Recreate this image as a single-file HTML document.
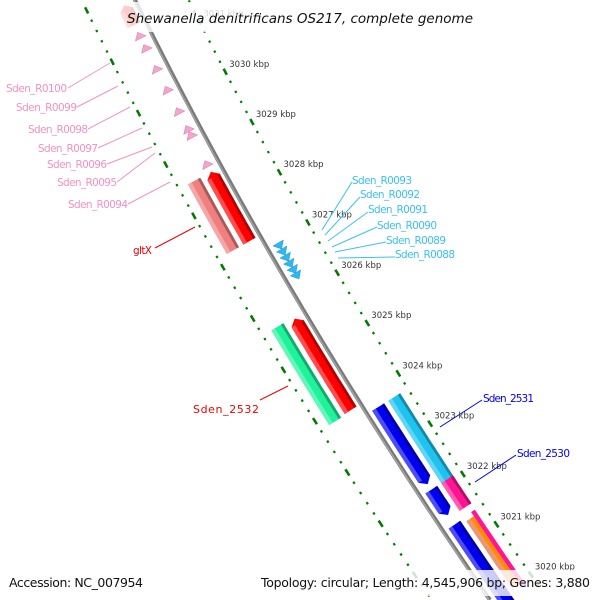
<!DOCTYPE html>
<html><head><meta charset="utf-8"><title>Shewanella denitrificans OS217 genome map</title>
<style>
html,body{margin:0;padding:0;background:#fff;width:600px;height:600px;overflow:hidden;}
svg{display:block;overflow:hidden;font-family:"DejaVu Sans","Liberation Sans",sans-serif;}
</style></head>
<body>
<svg id="map" width="600" height="600" viewBox="0 0 600 600" xmlns="http://www.w3.org/2000/svg">
<g id="rings"></g>
<g id="backbone"></g>
<g id="genes"></g>
<g id="ticklabels"></g>
<g id="labels">
  <g fill="#f590c4" stroke="none" font-size="10.5">
    <text x="6" y="92" textLength="61">Sden_R0100</text>
    <text x="16" y="111" textLength="61">Sden_R0099</text>
    <text x="28" y="133" textLength="60">Sden_R0098</text>
    <text x="38" y="152" textLength="60">Sden_R0097</text>
    <text x="47" y="168" textLength="60">Sden_R0096</text>
    <text x="57" y="186" textLength="60">Sden_R0095</text>
    <text x="68" y="208" textLength="60">Sden_R0094</text>
  </g>
  <g stroke="#f590c4" stroke-width="1">
    <line x1="68" y1="88" x2="110" y2="63"/>
    <line x1="77" y1="107" x2="118" y2="86"/>
    <line x1="88" y1="129" x2="130" y2="107"/>
    <line x1="98" y1="148" x2="142" y2="128"/>
    <line x1="107" y1="164" x2="152" y2="147"/>
    <line x1="117" y1="182" x2="155" y2="153"/>
    <line x1="128" y1="204" x2="170" y2="182"/>
  </g>
  <g fill="#3cc0f2" font-size="10.5">
    <text x="352" y="184" textLength="60">Sden_R0093</text>
    <text x="360" y="198" textLength="60">Sden_R0092</text>
    <text x="368" y="213" textLength="60">Sden_R0091</text>
    <text x="377" y="229" textLength="60">Sden_R0090</text>
    <text x="386" y="244" textLength="60">Sden_R0089</text>
    <text x="395" y="258" textLength="60">Sden_R0088</text>
  </g>
  <g stroke="#3cc0f2" stroke-width="1">
    <line x1="352" y1="182" x2="322" y2="230"/>
    <line x1="360" y1="197" x2="325" y2="235"/>
    <line x1="368" y1="212" x2="328" y2="241"/>
    <line x1="377" y1="227" x2="332" y2="247"/>
    <line x1="386" y1="242" x2="335" y2="252"/>
    <line x1="395" y1="257" x2="338" y2="258"/>
  </g>
  <text x="133" y="254" fill="#ee0000" font-size="10.5" textLength="19">gltX</text>
  <line x1="155" y1="248" x2="195" y2="227" stroke="#ee0000"/>
  <text x="193" y="413" fill="#ee0000" font-size="11" textLength="66">Sden_2532</text>
  <line x1="260" y1="400" x2="288" y2="386" stroke="#ee0000"/>
  <text x="483" y="402" fill="#0000ee" font-size="10.5" textLength="51">Sden_2531</text>
  <line x1="482" y1="400" x2="440" y2="427" stroke="#0000ee"/>
  <text x="517" y="457" fill="#0000ee" font-size="10.5" textLength="53">Sden_2530</text>
  <line x1="516" y1="455" x2="475" y2="482" stroke="#0000ee"/>
</g>
<g>
  <rect x="120" y="2" width="360" height="30" fill="#fff" fill-opacity="0.8"/>
  <text x="300" y="23" text-anchor="middle" font-size="13.5" font-style="italic" fill="#111" textLength="346">Shewanella denitrificans OS217, complete genome</text>
</g>
<g>
  <rect x="4" y="570" width="144" height="26" fill="#fff" fill-opacity="0.8"/>
  <text x="9" y="587" font-size="12.5" fill="#111" textLength="134">Accession: NC_007954</text>
  <rect x="255" y="570" width="341" height="26" fill="#fff" fill-opacity="0.8"/>
  <text x="261" y="587" font-size="12.5" fill="#111" textLength="329">Topology: circular; Length: 4,545,906 bp; Genes: 3,880</text>
</g>
</svg>
<script>
// ---- data ----
var tickLabelKbp = [3031,3030,3029,3028,3027,3026,3025,3024,3023,3022,3021,3020];
var leftRingPhase = 1.06;
var geneNames  = ['top-red','gltx-partner','gltx','sden-2532-partner','sden-2532','sden-2531','sden-2531b','sden-2530-blue','cyan-gene','magenta-gene','thin-salmon','thin-orange','thin-pink'];
var geneTop    = [3031.85, 3028.58, 3028.58, 3025.70, 3025.73, 3023.70, 3022.07, 3021.38, 3023.70, 3022.07, 3021.32, 3021.32, 3021.40];
var geneBottom = [3031.46, 3027.22, 3027.22, 3023.90, 3023.88, 3022.18, 3021.57, 3019.30, 3022.07, 3021.52, 3020.00, 3020.00, 3019.90];
var geneTrack  = [-12, -12, -31, -12, -31, 13, 13, 13, 32, 32, 27, 31.5, 36];
var geneWidth  = [14, 14, 14, 14, 14, 14, 14, 14, 14, 14, 4.5, 4.5, 4.5];
var geneHead   = ['up','up','none','up','none','down','down','down','none','none','none','none','none'];
var geneColor  = ['#ff0000','#ff0000','#f08080','#ff0000','#1ef29a','#0000ee','#0000ee','#0000ee','#1ec3f0','#ff1493','#e9967a','#ff8c00','#ff1493'];
var trnaLeftKbp  = [3031.26,3031.02,3030.61,3030.20,3029.78,3029.43,3029.31,3028.74];
var trnaRightKbp = [3026.89,3026.77,3026.65,3026.53,3026.41,3026.30];

// ---- geometry ----
function xb(y){return 135+0.4917*y+0.0001667*y*y;}
function Y(k){return 94+(3030-k)*50.8;}
function pt(k,r){var y=Y(k),s=0.4917+0.0003334*y,L=Math.sqrt(1+s*s);return [xb(y)+r/L, y-r*s/L];}
var NS='http://www.w3.org/2000/svg';
function mk(tag,attrs,parent){var e=document.createElementNS(NS,tag);for(var a in attrs)e.setAttribute(a,attrs[a]);parent.appendChild(e);return e;}
function shade(hex,f){var n=parseInt(hex.slice(1),16),r=n>>16,g=(n>>8)&255,b=n&255;
 function c(v){return Math.max(0,Math.min(255,Math.round(f>0?v+(255-v)*f:v*(1+f))));}
 return 'rgb('+c(r)+','+c(g)+','+c(b)+')';}
var HL=0.1;
function band(k1,k2,r1,r2,head,rc){
 var pts=[],N=12,i,k,a=k1,b=k2;
 if(head==='up')a=k1-HL; if(head==='down')b=k2+HL;
 for(i=0;i<=N;i++){k=a+(b-a)*i/N;pts.push(pt(k,r1));}
 if(head==='down')pts.push(pt(k2,rc));
 for(i=N;i>=0;i--){k=a+(b-a)*i/N;pts.push(pt(k,r2));}
 if(head==='up')pts.push(pt(k1,rc));
 return pts.map(function(p){return p[0].toFixed(1)+','+p[1].toFixed(1);}).join(' ');}

var rings=document.getElementById('rings');
function ring(r,phase,nm){
 for(var m=0;m<=90;m++){
  var kk=3018.8+m*0.2;
  var kq=kk+phase, y=Y(kq); if(y<-20||y>620)continue;
  var major=Math.abs(kk-Math.round(kk))<1e-6;
  var p1=pt(kq+(major?0.06:0.02),r),p2=pt(kq-(major?0.06:0.02),r);
  var l=mk('line',{x1:p1[0],y1:p1[1],x2:p2[0],y2:p2[1],stroke:'#007a00','stroke-width':major?2.6:2.2},rings);
  
  
 }
}
ring(48,0,'outer-ring');
ring(-48,leftRingPhase,'inner-ring');

var bb=document.getElementById('backbone'),d='';
for(var y=-10;y<=600;y+=10){d+=(y===-10?'M':'L')+xb(y).toFixed(1)+','+y;}
var bbl=mk('path',{d:d,fill:'none',stroke:'#7a7a7a','stroke-width':4},bb);


var bbh=mk('path',{d:d,fill:'none',stroke:'#a8a8a8','stroke-width':1.2,transform:'translate(-1,0)'},bb);



var gg=document.getElementById('genes');
for(var i=0;i<geneNames.length;i++){
 var r=geneTrack[i],w=geneWidth[i],c=geneColor[i],h=geneHead[i];
 var g=mk('g',{},gg);
 
 
 mk('polygon',{points:band(geneTop[i],geneBottom[i],r-w/2,r+w/2,h,r),fill:c},g);
 if(w>6){
  var t1=geneTop[i]-(h==='up'?HL:0), b1=geneBottom[i]+(h==='down'?HL:0);
  mk('polygon',{points:band(t1,b1,r-w/2,r-w/2+w*0.3,'none',0),fill:shade(c,0.3)},g);
  mk('polygon',{points:band(t1,b1,r+w/2-w*0.2,r+w/2,'none',0),fill:shade(c,-0.3)},g);
 }
}
function tri(k,r,dir,col,nm){
 var tip=dir==='up'?pt(k+0.06,r):pt(k-0.06,r);
 var b1=dir==='up'?pt(k-0.06,r-6):pt(k+0.06,r-6);
 var b2=dir==='up'?pt(k-0.06,r+6):pt(k+0.06,r+6);
 var p=mk('polygon',{points:tip.join(',')+' '+b1.join(',')+' '+b2.join(','),fill:col,stroke:shade(col,-0.2),'stroke-width':0.5},gg);
 
 
}
for(var j=0;j<trnaLeftKbp.length;j++)tri(trnaLeftKbp[j],-12,'up','#f7a3cf','trna-left-arrow');
for(var j=0;j<trnaRightKbp.length;j++)tri(trnaRightKbp[j],12,'down','#2cb8f4','trna-right-arrow');

var tl=document.getElementById('ticklabels');
for(var j=0;j<tickLabelKbp.length;j++){
 var p=pt(tickLabelKbp[j],48);
 var t=mk('text',{x:(p[0]+4).toFixed(1),y:(p[1]-5).toFixed(1),'font-size':8.5,fill:'#333'},tl);
 t.textContent=tickLabelKbp[j]+' kbp';
 
 
}
</script>
</body></html>
